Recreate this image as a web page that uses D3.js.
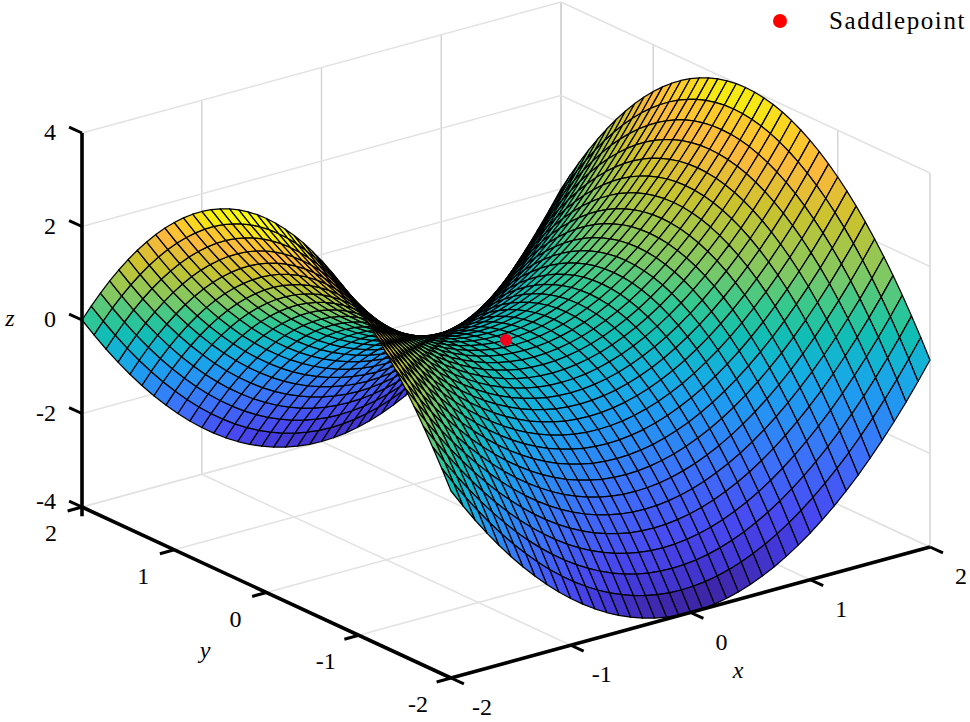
<!DOCTYPE html>
<html>
<head>
<meta charset="utf-8">
<script src="https://d3js.org/d3.v7.min.js"></script>
<style>
html, body { margin: 0; padding: 0; background: #fff; }
text { font-family: "Liberation Serif", serif; fill: #000; }
</style>
</head>
<body>
<svg id="chart"></svg>
<script>
const width = 970, height = 722;

const xValues = [-2,-1.9,-1.8,-1.7,-1.6,-1.5,-1.4,-1.3,-1.2,-1.1,-1,-0.9,-0.8,-0.7,-0.6,-0.5,-0.4,-0.3,-0.2,-0.1,0,0.1,0.2,0.3,0.4,0.5,0.6,0.7,0.8,0.9,1,1.1,1.2,1.3,1.4,1.5,1.6,1.7,1.8,1.9,2];
const yValues = [-2,-1.9,-1.8,-1.7,-1.6,-1.5,-1.4,-1.3,-1.2,-1.1,-1,-0.9,-0.8,-0.7,-0.6,-0.5,-0.4,-0.3,-0.2,-0.1,0,0.1,0.2,0.3,0.4,0.5,0.6,0.7,0.8,0.9,1,1.1,1.2,1.3,1.4,1.5,1.6,1.7,1.8,1.9,2];
// one row per y, one column per x
const zRows = [
[0,-.39,-.76,-1.11,-1.44,-1.75,-2.04,-2.31,-2.56,-2.79,-3,-3.19,-3.36,-3.51,-3.64,-3.75,-3.84,-3.91,-3.96,-3.99,-4,-3.99,-3.96,-3.91,-3.84,-3.75,-3.64,-3.51,-3.36,-3.19,-3,-2.79,-2.56,-2.31,-2.04,-1.75,-1.44,-1.11,-.76,-.39,0],
[.39,0,-.37,-.72,-1.05,-1.36,-1.65,-1.92,-2.17,-2.4,-2.61,-2.8,-2.97,-3.12,-3.25,-3.36,-3.45,-3.52,-3.57,-3.6,-3.61,-3.6,-3.57,-3.52,-3.45,-3.36,-3.25,-3.12,-2.97,-2.8,-2.61,-2.4,-2.17,-1.92,-1.65,-1.36,-1.05,-.72,-.37,0,.39],
[.76,.37,0,-.35,-.68,-.99,-1.28,-1.55,-1.8,-2.03,-2.24,-2.43,-2.6,-2.75,-2.88,-2.99,-3.08,-3.15,-3.2,-3.23,-3.24,-3.23,-3.2,-3.15,-3.08,-2.99,-2.88,-2.75,-2.6,-2.43,-2.24,-2.03,-1.8,-1.55,-1.28,-.99,-.68,-.35,0,.37,.76],
[1.11,.72,.35,0,-.33,-.64,-.93,-1.2,-1.45,-1.68,-1.89,-2.08,-2.25,-2.4,-2.53,-2.64,-2.73,-2.8,-2.85,-2.88,-2.89,-2.88,-2.85,-2.8,-2.73,-2.64,-2.53,-2.4,-2.25,-2.08,-1.89,-1.68,-1.45,-1.2,-.93,-.64,-.33,0,.35,.72,1.11],
[1.44,1.05,.68,.33,0,-.31,-.6,-.87,-1.12,-1.35,-1.56,-1.75,-1.92,-2.07,-2.2,-2.31,-2.4,-2.47,-2.52,-2.55,-2.56,-2.55,-2.52,-2.47,-2.4,-2.31,-2.2,-2.07,-1.92,-1.75,-1.56,-1.35,-1.12,-.87,-.6,-.31,0,.33,.68,1.05,1.44],
[1.75,1.36,.99,.64,.31,0,-.29,-.56,-.81,-1.04,-1.25,-1.44,-1.61,-1.76,-1.89,-2,-2.09,-2.16,-2.21,-2.24,-2.25,-2.24,-2.21,-2.16,-2.09,-2,-1.89,-1.76,-1.61,-1.44,-1.25,-1.04,-.81,-.56,-.29,0,.31,.64,.99,1.36,1.75],
[2.04,1.65,1.28,.93,.6,.29,0,-.27,-.52,-.75,-.96,-1.15,-1.32,-1.47,-1.6,-1.71,-1.8,-1.87,-1.92,-1.95,-1.96,-1.95,-1.92,-1.87,-1.8,-1.71,-1.6,-1.47,-1.32,-1.15,-.96,-.75,-.52,-.27,0,.29,.6,.93,1.28,1.65,2.04],
[2.31,1.92,1.55,1.2,.87,.56,.27,0,-.25,-.48,-.69,-.88,-1.05,-1.2,-1.33,-1.44,-1.53,-1.6,-1.65,-1.68,-1.69,-1.68,-1.65,-1.6,-1.53,-1.44,-1.33,-1.2,-1.05,-.88,-.69,-.48,-.25,0,.27,.56,.87,1.2,1.55,1.92,2.31],
[2.56,2.17,1.8,1.45,1.12,.81,.52,.25,0,-.23,-.44,-.63,-.8,-.95,-1.08,-1.19,-1.28,-1.35,-1.4,-1.43,-1.44,-1.43,-1.4,-1.35,-1.28,-1.19,-1.08,-.95,-.8,-.63,-.44,-.23,0,.25,.52,.81,1.12,1.45,1.8,2.17,2.56],
[2.79,2.4,2.03,1.68,1.35,1.04,.75,.48,.23,0,-.21,-.4,-.57,-.72,-.85,-.96,-1.05,-1.12,-1.17,-1.2,-1.21,-1.2,-1.17,-1.12,-1.05,-.96,-.85,-.72,-.57,-.4,-.21,0,.23,.48,.75,1.04,1.35,1.68,2.03,2.4,2.79],
[3,2.61,2.24,1.89,1.56,1.25,.96,.69,.44,.21,0,-.19,-.36,-.51,-.64,-.75,-.84,-.91,-.96,-.99,-1,-.99,-.96,-.91,-.84,-.75,-.64,-.51,-.36,-.19,0,.21,.44,.69,.96,1.25,1.56,1.89,2.24,2.61,3],
[3.19,2.8,2.43,2.08,1.75,1.44,1.15,.88,.63,.4,.19,0,-.17,-.32,-.45,-.56,-.65,-.72,-.77,-.8,-.81,-.8,-.77,-.72,-.65,-.56,-.45,-.32,-.17,0,.19,.4,.63,.88,1.15,1.44,1.75,2.08,2.43,2.8,3.19],
[3.36,2.97,2.6,2.25,1.92,1.61,1.32,1.05,.8,.57,.36,.17,0,-.15,-.28,-.39,-.48,-.55,-.6,-.63,-.64,-.63,-.6,-.55,-.48,-.39,-.28,-.15,0,.17,.36,.57,.8,1.05,1.32,1.61,1.92,2.25,2.6,2.97,3.36],
[3.51,3.12,2.75,2.4,2.07,1.76,1.47,1.2,.95,.72,.51,.32,.15,0,-.13,-.24,-.33,-.4,-.45,-.48,-.49,-.48,-.45,-.4,-.33,-.24,-.13,0,.15,.32,.51,.72,.95,1.2,1.47,1.76,2.07,2.4,2.75,3.12,3.51],
[3.64,3.25,2.88,2.53,2.2,1.89,1.6,1.33,1.08,.85,.64,.45,.28,.13,0,-.11,-.2,-.27,-.32,-.35,-.36,-.35,-.32,-.27,-.2,-.11,0,.13,.28,.45,.64,.85,1.08,1.33,1.6,1.89,2.2,2.53,2.88,3.25,3.64],
[3.75,3.36,2.99,2.64,2.31,2,1.71,1.44,1.19,.96,.75,.56,.39,.24,.11,0,-.09,-.16,-.21,-.24,-.25,-.24,-.21,-.16,-.09,0,.11,.24,.39,.56,.75,.96,1.19,1.44,1.71,2,2.31,2.64,2.99,3.36,3.75],
[3.84,3.45,3.08,2.73,2.4,2.09,1.8,1.53,1.28,1.05,.84,.65,.48,.33,.2,.09,0,-.07,-.12,-.15,-.16,-.15,-.12,-.07,0,.09,.2,.33,.48,.65,.84,1.05,1.28,1.53,1.8,2.09,2.4,2.73,3.08,3.45,3.84],
[3.91,3.52,3.15,2.8,2.47,2.16,1.87,1.6,1.35,1.12,.91,.72,.55,.4,.27,.16,.07,0,-.05,-.08,-.09,-.08,-.05,0,.07,.16,.27,.4,.55,.72,.91,1.12,1.35,1.6,1.87,2.16,2.47,2.8,3.15,3.52,3.91],
[3.96,3.57,3.2,2.85,2.52,2.21,1.92,1.65,1.4,1.17,.96,.77,.6,.45,.32,.21,.12,.05,0,-.03,-.04,-.03,0,.05,.12,.21,.32,.45,.6,.77,.96,1.17,1.4,1.65,1.92,2.21,2.52,2.85,3.2,3.57,3.96],
[3.99,3.6,3.23,2.88,2.55,2.24,1.95,1.68,1.43,1.2,.99,.8,.63,.48,.35,.24,.15,.08,.03,0,-.01,0,.03,.08,.15,.24,.35,.48,.63,.8,.99,1.2,1.43,1.68,1.95,2.24,2.55,2.88,3.23,3.6,3.99],
[4,3.61,3.24,2.89,2.56,2.25,1.96,1.69,1.44,1.21,1,.81,.64,.49,.36,.25,.16,.09,.04,.01,0,.01,.04,.09,.16,.25,.36,.49,.64,.81,1,1.21,1.44,1.69,1.96,2.25,2.56,2.89,3.24,3.61,4],
[3.99,3.6,3.23,2.88,2.55,2.24,1.95,1.68,1.43,1.2,.99,.8,.63,.48,.35,.24,.15,.08,.03,0,-.01,0,.03,.08,.15,.24,.35,.48,.63,.8,.99,1.2,1.43,1.68,1.95,2.24,2.55,2.88,3.23,3.6,3.99],
[3.96,3.57,3.2,2.85,2.52,2.21,1.92,1.65,1.4,1.17,.96,.77,.6,.45,.32,.21,.12,.05,0,-.03,-.04,-.03,0,.05,.12,.21,.32,.45,.6,.77,.96,1.17,1.4,1.65,1.92,2.21,2.52,2.85,3.2,3.57,3.96],
[3.91,3.52,3.15,2.8,2.47,2.16,1.87,1.6,1.35,1.12,.91,.72,.55,.4,.27,.16,.07,0,-.05,-.08,-.09,-.08,-.05,0,.07,.16,.27,.4,.55,.72,.91,1.12,1.35,1.6,1.87,2.16,2.47,2.8,3.15,3.52,3.91],
[3.84,3.45,3.08,2.73,2.4,2.09,1.8,1.53,1.28,1.05,.84,.65,.48,.33,.2,.09,0,-.07,-.12,-.15,-.16,-.15,-.12,-.07,0,.09,.2,.33,.48,.65,.84,1.05,1.28,1.53,1.8,2.09,2.4,2.73,3.08,3.45,3.84],
[3.75,3.36,2.99,2.64,2.31,2,1.71,1.44,1.19,.96,.75,.56,.39,.24,.11,0,-.09,-.16,-.21,-.24,-.25,-.24,-.21,-.16,-.09,0,.11,.24,.39,.56,.75,.96,1.19,1.44,1.71,2,2.31,2.64,2.99,3.36,3.75],
[3.64,3.25,2.88,2.53,2.2,1.89,1.6,1.33,1.08,.85,.64,.45,.28,.13,0,-.11,-.2,-.27,-.32,-.35,-.36,-.35,-.32,-.27,-.2,-.11,0,.13,.28,.45,.64,.85,1.08,1.33,1.6,1.89,2.2,2.53,2.88,3.25,3.64],
[3.51,3.12,2.75,2.4,2.07,1.76,1.47,1.2,.95,.72,.51,.32,.15,0,-.13,-.24,-.33,-.4,-.45,-.48,-.49,-.48,-.45,-.4,-.33,-.24,-.13,0,.15,.32,.51,.72,.95,1.2,1.47,1.76,2.07,2.4,2.75,3.12,3.51],
[3.36,2.97,2.6,2.25,1.92,1.61,1.32,1.05,.8,.57,.36,.17,0,-.15,-.28,-.39,-.48,-.55,-.6,-.63,-.64,-.63,-.6,-.55,-.48,-.39,-.28,-.15,0,.17,.36,.57,.8,1.05,1.32,1.61,1.92,2.25,2.6,2.97,3.36],
[3.19,2.8,2.43,2.08,1.75,1.44,1.15,.88,.63,.4,.19,0,-.17,-.32,-.45,-.56,-.65,-.72,-.77,-.8,-.81,-.8,-.77,-.72,-.65,-.56,-.45,-.32,-.17,0,.19,.4,.63,.88,1.15,1.44,1.75,2.08,2.43,2.8,3.19],
[3,2.61,2.24,1.89,1.56,1.25,.96,.69,.44,.21,0,-.19,-.36,-.51,-.64,-.75,-.84,-.91,-.96,-.99,-1,-.99,-.96,-.91,-.84,-.75,-.64,-.51,-.36,-.19,0,.21,.44,.69,.96,1.25,1.56,1.89,2.24,2.61,3],
[2.79,2.4,2.03,1.68,1.35,1.04,.75,.48,.23,0,-.21,-.4,-.57,-.72,-.85,-.96,-1.05,-1.12,-1.17,-1.2,-1.21,-1.2,-1.17,-1.12,-1.05,-.96,-.85,-.72,-.57,-.4,-.21,0,.23,.48,.75,1.04,1.35,1.68,2.03,2.4,2.79],
[2.56,2.17,1.8,1.45,1.12,.81,.52,.25,0,-.23,-.44,-.63,-.8,-.95,-1.08,-1.19,-1.28,-1.35,-1.4,-1.43,-1.44,-1.43,-1.4,-1.35,-1.28,-1.19,-1.08,-.95,-.8,-.63,-.44,-.23,0,.25,.52,.81,1.12,1.45,1.8,2.17,2.56],
[2.31,1.92,1.55,1.2,.87,.56,.27,0,-.25,-.48,-.69,-.88,-1.05,-1.2,-1.33,-1.44,-1.53,-1.6,-1.65,-1.68,-1.69,-1.68,-1.65,-1.6,-1.53,-1.44,-1.33,-1.2,-1.05,-.88,-.69,-.48,-.25,0,.27,.56,.87,1.2,1.55,1.92,2.31],
[2.04,1.65,1.28,.93,.6,.29,0,-.27,-.52,-.75,-.96,-1.15,-1.32,-1.47,-1.6,-1.71,-1.8,-1.87,-1.92,-1.95,-1.96,-1.95,-1.92,-1.87,-1.8,-1.71,-1.6,-1.47,-1.32,-1.15,-.96,-.75,-.52,-.27,0,.29,.6,.93,1.28,1.65,2.04],
[1.75,1.36,.99,.64,.31,0,-.29,-.56,-.81,-1.04,-1.25,-1.44,-1.61,-1.76,-1.89,-2,-2.09,-2.16,-2.21,-2.24,-2.25,-2.24,-2.21,-2.16,-2.09,-2,-1.89,-1.76,-1.61,-1.44,-1.25,-1.04,-.81,-.56,-.29,0,.31,.64,.99,1.36,1.75],
[1.44,1.05,.68,.33,0,-.31,-.6,-.87,-1.12,-1.35,-1.56,-1.75,-1.92,-2.07,-2.2,-2.31,-2.4,-2.47,-2.52,-2.55,-2.56,-2.55,-2.52,-2.47,-2.4,-2.31,-2.2,-2.07,-1.92,-1.75,-1.56,-1.35,-1.12,-.87,-.6,-.31,0,.33,.68,1.05,1.44],
[1.11,.72,.35,0,-.33,-.64,-.93,-1.2,-1.45,-1.68,-1.89,-2.08,-2.25,-2.4,-2.53,-2.64,-2.73,-2.8,-2.85,-2.88,-2.89,-2.88,-2.85,-2.8,-2.73,-2.64,-2.53,-2.4,-2.25,-2.08,-1.89,-1.68,-1.45,-1.2,-.93,-.64,-.33,0,.35,.72,1.11],
[.76,.37,0,-.35,-.68,-.99,-1.28,-1.55,-1.8,-2.03,-2.24,-2.43,-2.6,-2.75,-2.88,-2.99,-3.08,-3.15,-3.2,-3.23,-3.24,-3.23,-3.2,-3.15,-3.08,-2.99,-2.88,-2.75,-2.6,-2.43,-2.24,-2.03,-1.8,-1.55,-1.28,-.99,-.68,-.35,0,.37,.76],
[.39,0,-.37,-.72,-1.05,-1.36,-1.65,-1.92,-2.17,-2.4,-2.61,-2.8,-2.97,-3.12,-3.25,-3.36,-3.45,-3.52,-3.57,-3.6,-3.61,-3.6,-3.57,-3.52,-3.45,-3.36,-3.25,-3.12,-2.97,-2.8,-2.61,-2.4,-2.17,-1.92,-1.65,-1.36,-1.05,-.72,-.37,0,.39],
[0,-.39,-.76,-1.11,-1.44,-1.75,-2.04,-2.31,-2.56,-2.79,-3,-3.19,-3.36,-3.51,-3.64,-3.75,-3.84,-3.91,-3.96,-3.99,-4,-3.99,-3.96,-3.91,-3.84,-3.75,-3.64,-3.51,-3.36,-3.19,-3,-2.79,-2.56,-2.31,-2.04,-1.75,-1.44,-1.11,-.76,-.39,0]
];
const xTicks = [-2,-1,0,1,2];
const yTicks = [-2,-1,0,1,2];
const zTicks = [-4,-2,0,2,4];
const saddlePoint = [0,0,0];
const legendLabel = "Saddlepoint";

// colormap stops
const colorStops = [-4,-3.5,-3,-2,-1,-0.5,0,0.5,1,2,2.8,3.2,3.6,4];
const colorValues = ["#3e26a8","#4338d8","#4848f0","#3c72fa","#1f9cf0","#14b0de","#12bdb6","#34c890","#7cc866","#cbc32e","#fdb93c","#fcc92c","#f6ea12","#f9fb15"];

const svg = d3.select("#chart").attr("width", width).attr("height", height).style("display","block");

// view of the box: front floor corner plus one screen offset per data axis
const xToLeft = d3.scaleLinear([-2,2],[0,479]), xToTop = d3.scaleLinear([-2,2],[0,-131]);
const yToLeft = d3.scaleLinear([-2,2],[0,-369]), yToTop = d3.scaleLinear([-2,2],[0,-171]);
const zToTop = d3.scaleLinear([-4,4],[0,-374]);
const project = (x,y,z) => [451+xToLeft(x)+yToLeft(y), 678+xToTop(x)+yToTop(y)+zToTop(z)];
const colorScale = d3.scaleLinear().domain(colorStops).range(colorValues).clamp(true);

const drawLine = (a,b,color,w) => svg.append("line")
  .attr("x1",a[0]).attr("y1",a[1]).attr("x2",b[0]).attr("y2",b[1])
  .attr("stroke",color).attr("stroke-width",w);

// walls and floor
const soft = "#e2e2e2", upright = "#d2d2d2";
xTicks.forEach(x => {
  drawLine(project(x,-2,-4), project(x,2,-4), soft, 1.5);
  drawLine(project(x,2,-4), project(x,2,4), upright, 1.4);
});
yTicks.forEach(y => {
  drawLine(project(-2,y,-4), project(2,y,-4), soft, 1.5);
  drawLine(project(2,y,-4), project(2,y,4), upright, 1.4);
});
zTicks.forEach(z => {
  drawLine(project(-2,2,z), project(2,2,z), soft, 1.5);
  drawLine(project(2,2,z), project(2,-2,z), soft, 1.5);
});

// surface, far cells first, each cell coloured by its first corner
const cells = [];
d3.range(yValues.length-2,-1,-1).forEach(j => {
  d3.range(xValues.length-2,-1,-1).forEach(i => cells.push([i,j]));
});
const corner = (i,j) => project(xValues[i], yValues[j], zRows[j][i]);
svg.append("g").selectAll("path").data(cells).join("path")
  .attr("d", ([i,j]) => "M"+[corner(i,j),corner(i+1,j),corner(i+1,j+1),corner(i,j+1)].join("L")+"Z")
  .attr("fill", ([i,j]) => colorScale(zRows[j][i]))
  .attr("stroke","#000").attr("stroke-width",1.25).attr("stroke-linejoin","round");

const s0 = project(...saddlePoint);
svg.append("circle").attr("cx",s0[0]).attr("cy",s0[1]).attr("r",6).attr("fill","#f0001c");

// axes
drawLine(project(-2,2,-4.2), project(-2,2,4), "#000", 3.6);
drawLine(project(-2,2,-4), project(-2,-2,-4), "#000", 3.6);
drawLine(project(-2,-2,-4), project(2,-2,-4), "#000", 3.6);

const label = (x,y,t,italic) => svg.append("text").attr("x",x).attr("y",y)
  .attr("font-size",24).attr("font-style",italic ? "italic" : "normal").text(t);

zTicks.forEach(z => {
  const a = project(-2,2,z);
  drawLine(a, project(-2,2.14,z), "#000", 3);
  label(56,a[1]+(z === -4 ? 2 : 7),z).attr("text-anchor","end");
});
yTicks.forEach(y => {
  const a = project(-2,y,-4);
  drawLine(a, project(-2.12,y,-4), "#000", 3);
  label(a[0]-(y < 0 ? 33 : 31),a[1]+34,y).attr("text-anchor","middle");
});
xTicks.forEach(x => {
  const a = project(x,-2,-4);
  drawLine(a, project(x,-2.14,-4), "#000", 3);
  label(a[0]+31,a[1]+37,x).attr("text-anchor","middle");
});
label(10,326,"z",true).attr("text-anchor","middle");
label(205,658,"y",true).attr("text-anchor","middle");
label(738,678,"x",true).attr("text-anchor","middle");

// legend
svg.append("circle").attr("cx",780).attr("cy",21).attr("r",7).attr("fill","#f00");
svg.append("text").attr("x",829).attr("y",29).attr("font-size",25).attr("letter-spacing",1.6).text(legendLabel);
</script>
</body>
</html>
